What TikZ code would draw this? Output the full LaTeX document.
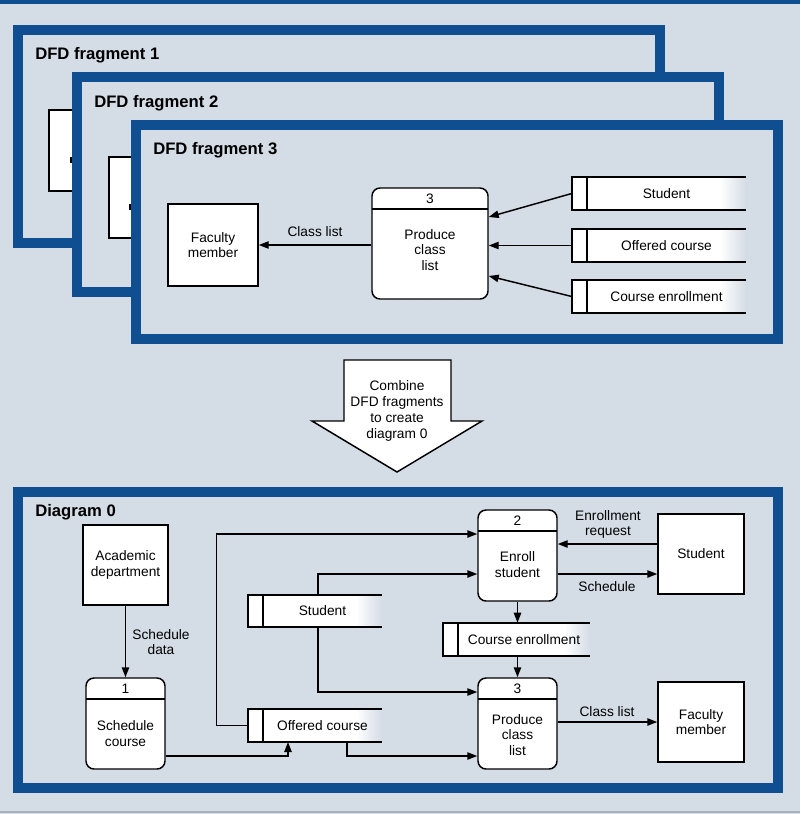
\documentclass[tikz,border=0pt]{standalone}
\usepackage{fontspec}
\setmainfont{Liberation Sans}
\usetikzlibrary{arrows.meta,calc}
\definecolor{bgc}{RGB}{212,220,229}
\definecolor{fblue}{RGB}{14,78,145}
\definecolor{btmline}{RGB}{165,176,188}
\tikzset{
  txt/.style={font=\fontsize{10.3}{11.5}\selectfont, align=center, inner sep=0pt},
  ttl/.style={font=\fontsize{12.5}{14}\selectfont\bfseries, anchor=west, inner sep=0pt},
  frame/.style={draw=fblue, line width=7.5pt, fill=bgc},
  ext/.style={draw, fill=white, line width=1.1pt, txt, inner sep=0pt},
  proc/.style={draw, fill=white, line width=1.1pt, rounded corners=6pt, inner sep=0pt},
  arr/.style={line width=1.1pt, -{Triangle[length=7.5pt,width=5.5pt]}},
  ln/.style={line width=1.1pt},
}
% data store: #1 name, #2 x1, #3 y1, #4 x2, #5 y2, #6 text
\newcommand\dstore[6]{%
  \fill[white] (#2,#3) rectangle (#4-26,#5);
  \shade[left color=white,right color=bgc] (#4-26,#3) rectangle (#4,#5);
  \draw[ln] (#4,#3) -- (#2,#3) -- (#2,#5) -- (#4,#5);
  \draw[ln] (#2+15,#3) -- (#2+15,#5);
  \path (#2,#3) coordinate (#1-nw) (#4,#5) coordinate (#1-se);
  \node[inner sep=0pt, minimum width={(#4-#2)*0.75pt}, minimum height={(#5-#3)*0.75pt}] (#1) at ({(#2+#4)/2},{(#3+#5)/2}) {};
  \node[txt] (#1-t) at ({(#2+15+#4)/2},{(#3+#5)/2}) {#6};
}
% process: #1 name, #2 cx, #3 top, #4 w(px), #5 h(px), #6 number, #7 text, #8 text cy
\newcommand\procbox[8]{%
  \node[proc, minimum width={#4*0.75pt}, minimum height={#5*0.75pt}] (#1) at (#2,{#3+#5/2}) {};
  \draw[ln] ({#2-#4/2},#3+21) -- ({#2+#4/2},#3+21);
  \node[txt] (#1-n) at (#2,#3+11) {#6};
  \node[txt] (#1-t) at (#2,#8) {#7};
}
\begin{document}
\begin{tikzpicture}[x=0.75pt,y=-0.75pt]
\useasboundingbox (0,0) rectangle (800,814);
\fill[bgc] (0,0) rectangle (800,814);
\fill[fblue] (0,0) rectangle (800,4);
\draw[btmline, line width=0.8pt] (0,812) -- (800,812);

% ---------- Fragment 1 ----------
\draw[frame] (18,30) rectangle (660,243);
\node[ttl] (t1) at (35,55) {DFD fragment 1};
\node[ext, minimum width=67.5pt, minimum height=60.75pt] (b1) at (94,150.5) {};
\fill (70,157) rectangle (73,163);

% ---------- Fragment 2 ----------
\draw[frame] (77,77) rectangle (719,292);
\node[ttl] (t2) at (94,103) {DFD fragment 2};
\node[ext, minimum width=67.5pt, minimum height=60.75pt] (b2) at (154,197.5) {};
\fill (129,204) rectangle (132,210);

% ---------- Fragment 3 ----------
\draw[frame] (136,125) rectangle (778,339);
\node[ttl] (t3) at (153,150) {DFD fragment 3};
\node[ext, minimum width=67.5pt, minimum height=61.5pt] (fac3) at (213,245) {Faculty\\member};
\procbox{p3}{430}{188}{116}{111}{3}{Produce\\class\\list}{250}
\dstore{st3s}{572}{177}{746}{210}{Student}
\dstore{st3o}{572}{229}{746}{262}{Offered course}
\dstore{st3c}{572}{280}{746}{313}{Course enrollment}
\draw[arr] (p3.west |- fac3.east) -- (fac3.east) node[txt, midway, above=6pt] (cl3) {Class list};
\draw[arr] (st3s.west) -- ($(p3.east)+(0,-26.5)$);
\draw[arr] (st3o.west) -- (p3.east |- st3o.west);
\draw[arr] (st3c.west) -- ($(p3.east)+(0,32.5)$);

% ---------- Big arrow ----------
\draw[ln, fill=white, line join=miter] (344,360) -- (451,360) -- (451,421) -- (482,421) -- (397,472) -- (312,421) -- (344,421) -- cycle;
\node[txt, font=\fontsize{10.3}{12}\selectfont] (comb) at (397,411) {Combine\\DFD fragments\\to create\\diagram 0};

% ---------- Diagram 0 ----------
\draw[frame] (18,491.5) rectangle (778,788);
\node[ttl] (t0) at (35,512) {Diagram 0};
\node[ext, minimum width=63.75pt, minimum height=60pt] (acad) at (125.5,565) {Academic\\department};
\procbox{p1}{125.5}{678}{79}{91}{1}{Schedule\\course}{733.5}
\procbox{p2}{517.5}{510}{79}{91}{2}{Enroll\\student}{564.5}
\procbox{p3b}{517.5}{678}{79}{91}{3}{Produce\\class\\list}{735}
\node[ext, minimum width=64.5pt, minimum height=60pt] (stud) at (701,554) {Student};
\node[ext, minimum width=64.5pt, minimum height=60pt] (fac) at (701,722) {Faculty\\member};
\dstore{stu0}{248}{595}{382}{627}{Student}
\dstore{off0}{248}{709}{382}{742}{Offered course}
\dstore{ce0}{443}{623}{590}{656}{Course enrollment}

\draw[arr] (acad.south) -- (p1.north);
\node[txt] (sdl) at (161,642) {Schedule\\data};
\draw[arr] ($(p1.east)+(0,32.5)$) -| ($(off0-nw |- off0-se)+(40,0)$);
\draw[arr] (off0.west) -- ++(-31,0) |- ($(p2.west)+(0,-21.5)$);
\draw[arr] ($(stu0-nw)+(70,0)$) |- ($(p2.west)+(0,18.5)$);
\draw[arr] ($(stu0-nw |- stu0-se)+(70,0)$) |- ($(p3b.west)+(0,-31.5)$);
\draw[arr] ($(off0-nw |- off0-se)+(99,0)$) |- ($(p3b.west)+(0,32.5)$);
\draw[arr] ($(stud.west)+(0,-10)$) -- ($(p2.east)+(0,-11.5)$);
\node[txt] (erq) at (608,524.5) {Enrollment\\request};
\draw[arr] ($(p2.east)+(0,18.5)$) -- ($(stud.west)+(0,20)$);
\node[txt] (sch) at (607,587) {Schedule};
\draw[arr] (p2.south) -- (p2.south |- ce0.north);
\draw[arr] (p3b.north |- ce0.south) -- (p3b.north);
\draw[arr] (p3b.east |- fac.west) -- (fac.west);
\node[txt] (cl0) at (607,712) {Class list};
\end{tikzpicture}
\end{document}
